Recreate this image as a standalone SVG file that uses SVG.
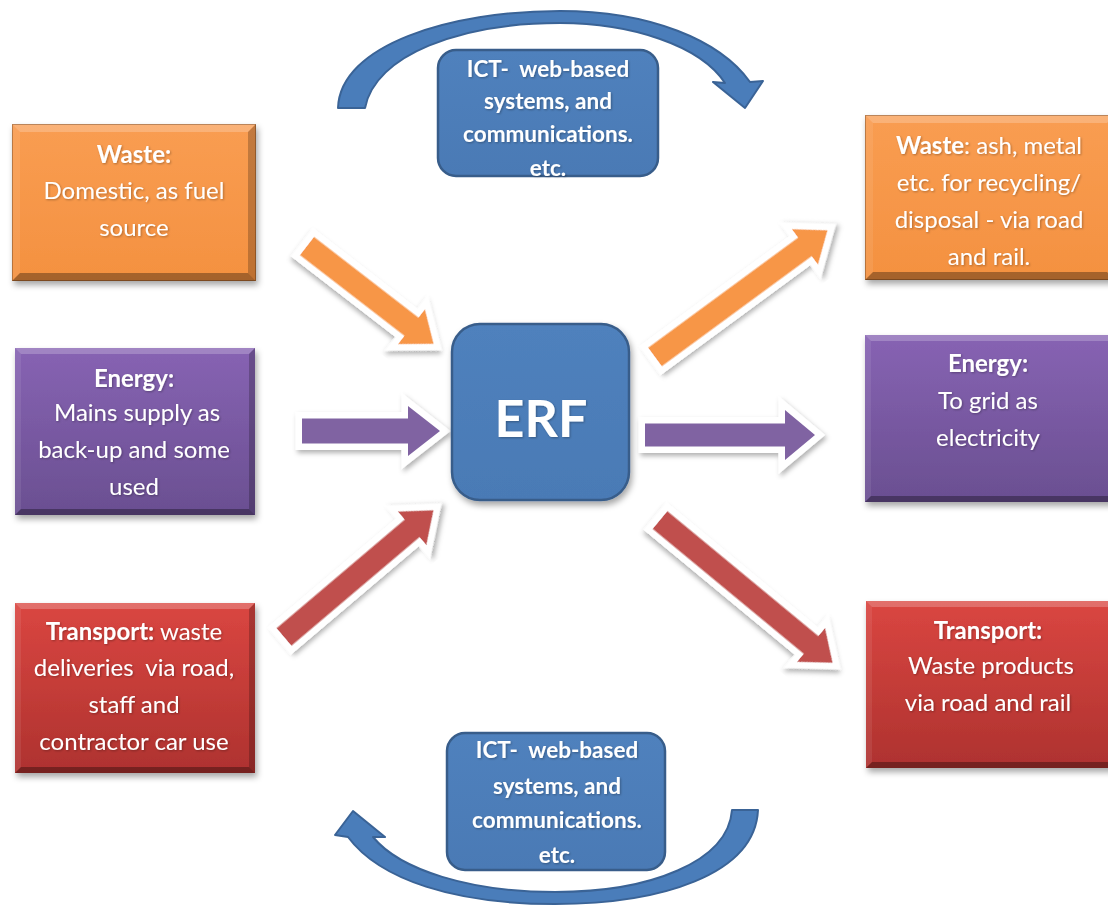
<svg xmlns="http://www.w3.org/2000/svg" width="1108" height="906" viewBox="0 0 1108 906">
  <defs>
    <filter id="shadow" x="-20%" y="-20%" width="140%" height="150%">
      <feDropShadow dx="2" dy="4" stdDeviation="3" flood-color="#000" flood-opacity="0.35"/>
    </filter>
    <filter id="arrowShadow" x="-20%" y="-40%" width="140%" height="180%">
      <feDropShadow dx="2" dy="3" stdDeviation="2.5" flood-color="#000" flood-opacity="0.3"/>
    </filter>
    <filter id="textShadow" x="-10%" y="-20%" width="120%" height="140%">
      <feDropShadow dx="1" dy="1" stdDeviation="0.8" flood-color="#000" flood-opacity="0.3"/>
    </filter>
    <linearGradient id="gOrange" x1="0" y1="0" x2="0" y2="1">
      <stop offset="0" stop-color="#F99D52"/>
      <stop offset="1" stop-color="#F49140"/>
    </linearGradient>
    <linearGradient id="gPurple" x1="0" y1="0" x2="0" y2="1">
      <stop offset="0" stop-color="#8763B3"/>
      <stop offset="1" stop-color="#6A4F91"/>
    </linearGradient>
    <linearGradient id="gRed" x1="0" y1="0" x2="0" y2="1">
      <stop offset="0" stop-color="#DA4641"/>
      <stop offset="1" stop-color="#AE322F"/>
    </linearGradient>
    <linearGradient id="gBlue" x1="0" y1="0" x2="0" y2="1">
      <stop offset="0" stop-color="#4F81BD"/>
      <stop offset="1" stop-color="#4A7AB5"/>
    </linearGradient>
  </defs>
  <style>
    .txt { font-family: "Lato", "Open Sans", "Liberation Sans", sans-serif; font-size: 24px; fill: #ffffff; text-anchor: middle; }
    .b { font-weight: bold; }
    .ict { font-family: "Lato", "Open Sans", "Liberation Sans", sans-serif; font-size: 22.5px; font-weight: bold; fill: #ffffff; text-anchor: middle; }
    .erf { font-family: "Lato", "Open Sans", "Liberation Sans", sans-serif; font-size: 52px; font-weight: bold; fill: #ffffff; text-anchor: middle; }
    .hi { fill: #ffffff; opacity: 0.22; }
    .hi2 { fill: #ffffff; opacity: 0.08; }
    .lo { fill: #000000; opacity: 0.22; }
    .lo2 { fill: #000000; opacity: 0.32; }
    .edge { fill: none; stroke: #000; stroke-opacity: 0.25; stroke-width: 1; }
    .blue { fill: url(#gBlue); stroke: #385D8A; stroke-width: 2.5; }
    .curve { fill: #4A7DBA; stroke: #3A6396; stroke-width: 2; stroke-linejoin: round; }
    .arrow { stroke: #ffffff; stroke-width: 13; stroke-linejoin: miter; stroke-miterlimit: 6; paint-order: stroke; filter: url(#arrowShadow); }
    .ao { fill: #F79646; }
    .ap { fill: #8064A2; }
    .ar { fill: #C0504D; }
  </style>

  <!-- Curved ICT arrows -->
  <g id="ict-loops">
    <path class="curve" d="M 338 108 C 340 45 450 11 560 11 C 650 11 720 40 750 82 L 763 81 L 745 108 L 713 82 L 725 83 C 700 45 630 23 560 23 C 460 23 375 55 365 108 Z"/>
    <path class="curve" d="M 758 810 C 755 875 660 904 555 904 C 455 904 380 880 348 837 L 335 835 L 353 811 L 385 837 L 373 837 C 400 870 470 892 555 892 C 650 892 728 862 732 810 Z"/>
  </g>

  <!-- Block arrows between the inputs/outputs and the ERF -->
  <g id="connectors">
    <polygon class="arrow ao" transform="translate(307 246) rotate(37.7)" points="0,-11.5 132,-11.5 132,-22 160,0 132,22 132,11.5 0,11.5"/>
    <polygon class="arrow ap" transform="translate(302 431) rotate(0)" points="0,-12.5 106,-12.5 106,-25 138,0 106,25 106,12.5 0,12.5"/>
    <polygon class="arrow ar" transform="translate(284 637) rotate(-40.3)" points="0,-11.5 168,-11.5 168,-22 196,0 168,22 168,11.5 0,11.5"/>
    <polygon class="arrow ao" transform="translate(655 357) rotate(-36.3)" points="0,-11.5 186,-11.5 186,-22 214,0 186,22 186,11.5 0,11.5"/>
    <polygon class="arrow ap" transform="translate(645 435) rotate(0)" points="0,-11.5 140,-11.5 140,-25 170,0 140,25 140,11.5 0,11.5"/>
    <polygon class="arrow ar" transform="translate(660 520) rotate(39.6)" points="0,-11.5 196,-11.5 196,-22 224,0 196,22 196,11.5 0,11.5"/>
  </g>

  <!-- Central facility -->
  <g id="erf">
    <rect class="blue" x="452" y="324" width="177" height="176" rx="28" filter="url(#shadow)"/>
    <text class="erf" x="541" y="437" filter="url(#textShadow)">ERF</text>
  </g>

  <!-- ICT boxes -->
  <g id="ict-top">
    <rect class="blue" x="438" y="50" width="220" height="126" rx="18"/>
    <g class="ict" filter="url(#textShadow)">
      <text x="548" y="77" xml:space="preserve">ICT-  web-based</text>
      <text x="548" y="109">systems, and</text>
      <text x="548" y="142">communications.</text>
      <text x="548" y="176">etc.</text>
    </g>
  </g>
  <g id="ict-bottom">
    <rect class="blue" x="447" y="733" width="218" height="137" rx="18"/>
    <g class="ict" filter="url(#textShadow)">
      <text x="557" y="758" xml:space="preserve">ICT-  web-based</text>
      <text x="557" y="794">systems, and</text>
      <text x="557" y="828">communications.</text>
      <text x="557" y="863">etc.</text>
    </g>
  </g>

  <!-- Inputs (left) -->
  <g id="waste-in">
    <g filter="url(#shadow)">
      <rect x="12" y="124" width="244" height="157" fill="url(#gOrange)"/>
    </g>
    <polygon class="hi" points="12,124 256,124 248,132 20,132"/>
    <polygon class="hi2" points="12,124 20,132 20,273 12,281"/>
    <polygon class="lo" points="256,124 256,281 248,273 248,132"/>
    <polygon class="lo2" points="12,281 20,273 248,273 256,281"/>
    <rect class="edge" x="12.5" y="124.5" width="243" height="156"/>
    <g class="txt" filter="url(#textShadow)">
      <text x="134" y="163" class="b">Waste:</text>
      <text x="134" y="199">Domestic, as fuel</text>
      <text x="134" y="236">source</text>
    </g>
  </g>
  <g id="energy-in">
    <g filter="url(#shadow)">
      <rect x="15" y="348" width="240" height="167" fill="url(#gPurple)"/>
    </g>
    <polygon class="hi" points="15,348 255,348 249,354 21,354"/>
    <polygon class="hi2" points="15,348 21,354 21,509 15,515"/>
    <polygon class="lo" points="255,348 255,515 249,509 249,354"/>
    <polygon class="lo2" points="15,515 21,509 249,509 255,515"/>
    <g class="txt" filter="url(#textShadow)">
      <text x="134" y="387" class="b">Energy:</text>
      <text x="134" y="421" xml:space="preserve"> Mains supply as</text>
      <text x="134" y="458">back-up and some</text>
      <text x="134" y="495">used</text>
    </g>
  </g>
  <g id="transport-in">
    <g filter="url(#shadow)">
      <rect x="15" y="603" width="240" height="170" fill="url(#gRed)"/>
    </g>
    <polygon class="hi" points="15,603 255,603 249,609 21,609"/>
    <polygon class="hi2" points="15,603 21,609 21,767 15,773"/>
    <polygon class="lo" points="255,603 255,773 249,767 249,609"/>
    <polygon class="lo2" points="15,773 21,767 249,767 255,773"/>
    <g class="txt" filter="url(#textShadow)">
      <text x="134" y="640"><tspan class="b">Transport:</tspan> waste</text>
      <text x="134" y="676" xml:space="preserve">deliveries  via road,</text>
      <text x="134" y="713">staff and</text>
      <text x="134" y="750">contractor car use</text>
    </g>
  </g>

  <!-- Outputs (right) -->
  <g id="waste-out">
    <g filter="url(#shadow)">
      <rect x="865" y="115" width="250" height="165" fill="url(#gOrange)"/>
    </g>
    <polygon class="hi" points="865,115 1115,115 1107,123 873,123"/>
    <polygon class="hi2" points="865,115 873,123 873,272 865,280"/>
    <polygon class="lo2" points="865,280 873,272 1107,272 1115,280"/>
    <rect class="edge" x="865.5" y="115.5" width="250" height="164"/>
    <g class="txt" filter="url(#textShadow)">
      <text x="989" y="154"><tspan class="b">Waste</tspan>: ash, metal</text>
      <text x="989" y="191">etc. for recycling/</text>
      <text x="989" y="228">disposal - via road</text>
      <text x="989" y="265">and rail.</text>
    </g>
  </g>
  <g id="energy-out">
    <g filter="url(#shadow)">
      <rect x="865" y="335" width="250" height="167" fill="url(#gPurple)"/>
    </g>
    <polygon class="hi" points="865,335 1115,335 1109,341 871,341"/>
    <polygon class="hi2" points="865,335 871,341 871,496 865,502"/>
    <polygon class="lo2" points="865,502 871,496 1109,496 1115,502"/>
    <g class="txt" filter="url(#textShadow)">
      <text x="988" y="372" class="b">Energy:</text>
      <text x="988" y="409">To grid as</text>
      <text x="988" y="446">electricity</text>
    </g>
  </g>
  <g id="transport-out">
    <g filter="url(#shadow)">
      <rect x="866" y="601" width="250" height="167" fill="url(#gRed)"/>
    </g>
    <polygon class="hi" points="866,601 1116,601 1110,607 872,607"/>
    <polygon class="hi2" points="866,601 872,607 872,762 866,768"/>
    <polygon class="lo2" points="866,768 872,762 1110,762 1116,768"/>
    <g class="txt" filter="url(#textShadow)">
      <text x="988" y="639" class="b">Transport:</text>
      <text x="988" y="674" xml:space="preserve"> Waste products</text>
      <text x="988" y="711">via road and rail</text>
    </g>
  </g>
</svg>
